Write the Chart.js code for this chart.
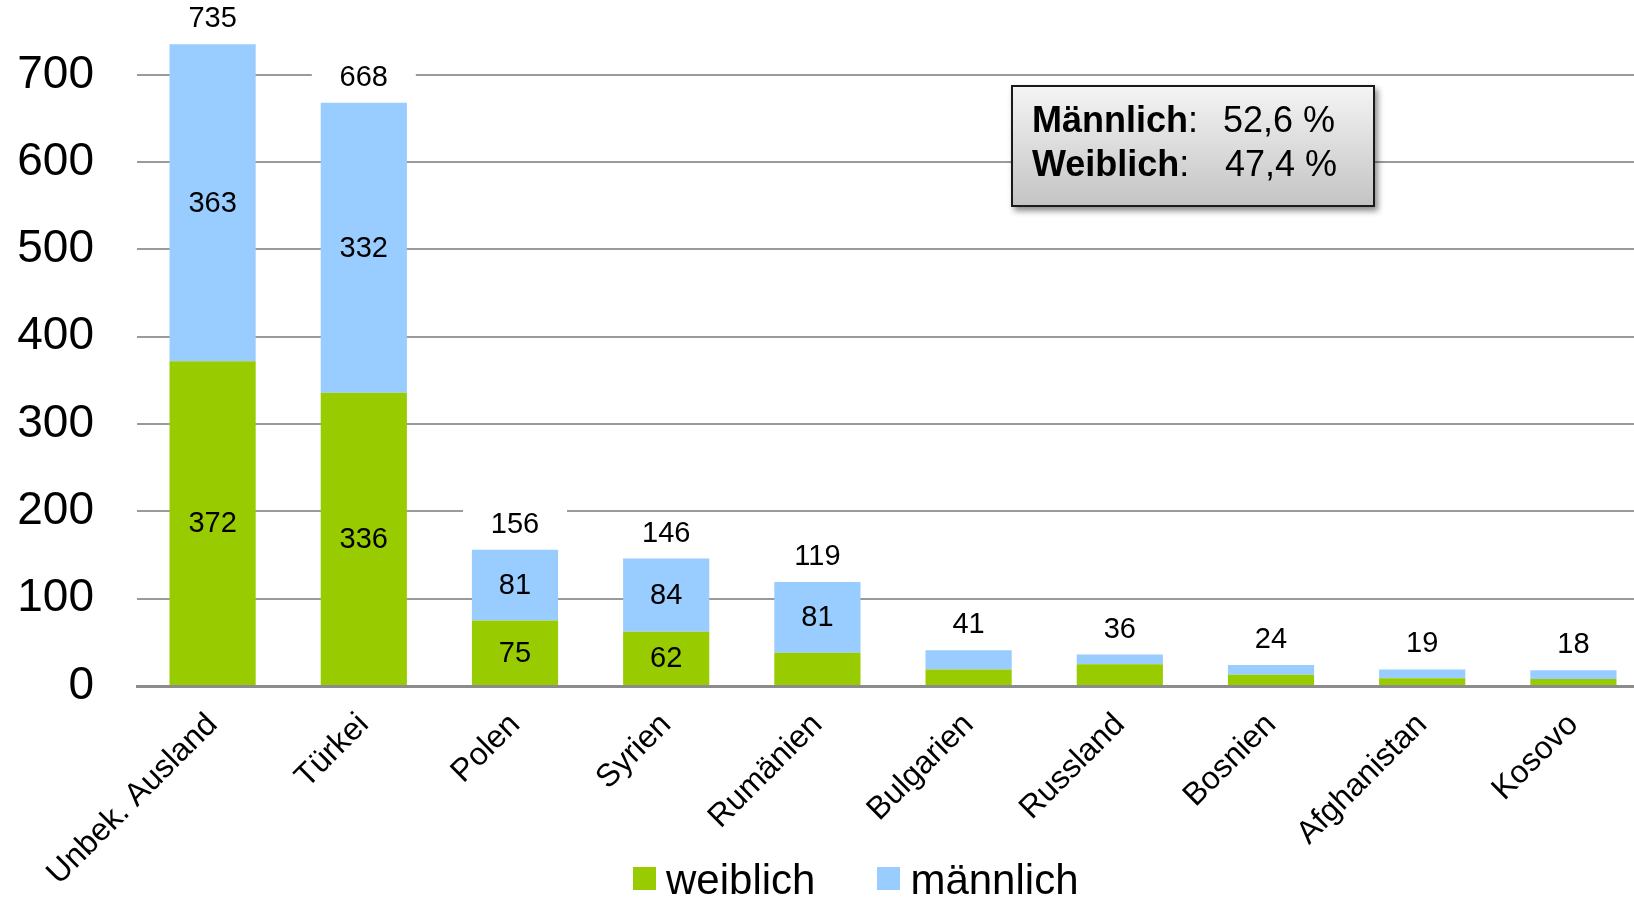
<!DOCTYPE html>
<html>
<head>
<meta charset="utf-8">
<script src="https://cdn.jsdelivr.net/npm/chart.js@4.4.0/dist/chart.umd.min.js"></script>
<style>
html, body { margin: 0; padding: 0; background: #fff; overflow: hidden; width: 1634px; height: 898px; }
#wrap { position: relative; width: 1634px; height: 898px; overflow: hidden; font-family: 'Liberation Sans', Arial, sans-serif; color: #000; }
#grafico { position: absolute; left: 0; top: 0; }
.infoBox { position: absolute; left: 1011px; top: 85px; width: 364px; height: 122px; box-sizing: border-box;
  border: 2px solid #1a1a1a; background: linear-gradient(to bottom, #f4f4f4, #c4c4c4);
  box-shadow: 3px 4px 6px rgba(0, 0, 0, 0.45); }
.infoBox span { position: absolute; font-size: 36px; line-height: 44px; white-space: nowrap; }
.infoBox b { font-weight: bold; }
#leyenda { position: absolute; left: 633px; top: 859px; display: flex; align-items: flex-start; }
.item { display: flex; align-items: flex-start; margin-right: 62px; }
.cuadro { width: 23px; height: 23px; margin-top: 8px; margin-right: 10px; }
.texto { font-size: 42px; line-height: 42px; white-space: nowrap; }
</style>
</head>
<body>
<div id="wrap">
    <canvas id="grafico" width="1649" height="898"></canvas>
    <div class="infoBox">
        <span style="left:19px; top:11px;"><b>Männlich</b>:</span>
        <span style="left:210px; top:11px;">52,6 %</span>
        <span style="left:19px; top:55px;"><b>Weiblich</b>:</span>
        <span style="left:212px; top:55px;">47,4 %</span>
    </div>
    <div id="leyenda"></div>
</div>
<script>
var paises = ['Unbek. Ausland', 'Türkei', 'Polen', 'Syrien', 'Rumänien', 'Bulgarien', 'Russland', 'Bosnien', 'Afghanistan', 'Kosovo'];
var weiblich = [372, 336, 75, 62, 38, 19, 25, 13, 9, 8];
var maennlich = [363, 332, 81, 84, 81, 22, 11, 11, 10, 10];
var gesamt = [735, 668, 156, 146, 119, 41, 36, 24, 19, 18];
var ejeY = [0, 100, 200, 300, 400, 500, 600, 700];

var fuente = "'Liberation Sans', Arial, sans-serif";

// etiquetas de valores dentro de las barras y totales arriba
var etiquetasPlugin = {
    id: 'etiquetas',
    afterDatasetsDraw: function (chart) {
        var ctx = chart.ctx;
        ctx.save();
        ctx.font = '29px ' + fuente;
        ctx.textAlign = 'center';
        ctx.textBaseline = 'middle';
        ctx.fillStyle = '#000';
        chart.data.datasets.forEach(function (ds, i) {
            var meta = chart.getDatasetMeta(i);
            meta.data.forEach(function (bar, j) {
                if (ds.data[j] >= 50) {
                    ctx.fillText(ds.data[j], bar.x, (bar.y + bar.base) / 2 + 1);
                }
            });
        });
        var metaArriba = chart.getDatasetMeta(1);
        metaArriba.data.forEach(function (bar, j) {
            var y = bar.y - 26;
            ctx.fillStyle = '#fff';
            ctx.fillRect(bar.x - 52, y - 17, 104, 32);
            ctx.fillStyle = '#000';
            ctx.fillText(gesamt[j], bar.x, y + 1);
        });
        ctx.restore();
    }
};

var ctx = document.getElementById('grafico');
var grafico = new Chart(ctx, {
    type: 'bar',
    data: {
        labels: paises,
        datasets: [{
            label: 'weiblich',
            data: weiblich,
            backgroundColor: '#99CC00',
            barPercentage: 0.57,
            categoryPercentage: 1.0
        }, {
            label: 'männlich',
            data: maennlich,
            backgroundColor: '#99CCFF',
            barPercentage: 0.57,
            categoryPercentage: 1.0
        }]
    },
    options: {
        responsive: false,
        animation: false,
        layout: { padding: { top: 5, left: 0, right: 0, bottom: 0 } },
        plugins: {
            legend: { display: false },
            tooltip: { enabled: false }
        },
        scales: {
            x: {
                stacked: true,
                grid: { display: false, drawTicks: false },
                border: { display: true, color: '#8c8c8c', width: 3 },
                ticks: {
                    color: '#000',
                    font: { family: fuente, size: 32 },
                    maxRotation: 45,
                    minRotation: 45,
                    autoSkip: false,
                    padding: 20
                },
                afterFit: function (axis) {
                    axis.height = 212;
                    axis.paddingLeft = 0;
                    axis.paddingRight = 0;
                }
            },
            y: {
                stacked: true,
                min: 0,
                max: 780,
                ticks: {
                    stepSize: 100,
                    padding: 43,
                    color: '#000',
                    font: { family: fuente, size: 46 }
                },
                afterBuildTicks: function (axis) {
                    axis.ticks = ejeY.map(function (v) { return { value: v }; });
                },
                grid: { color: '#9a9a9a', lineWidth: 2, drawTicks: false },
                border: { display: false },
                afterFit: function (axis) {
                    axis.width = 137;
                    axis.paddingTop = 0;
                    axis.paddingBottom = 0;
                }
            }
        }
    },
    plugins: [etiquetasPlugin]
});

// leyenda abajo
var leyenda = document.getElementById('leyenda');
grafico.data.datasets.forEach(function (ds) {
    var item = document.createElement('div');
    item.className = 'item';
    var cuadro = document.createElement('div');
    cuadro.className = 'cuadro';
    cuadro.style.background = ds.backgroundColor;
    var texto = document.createElement('div');
    texto.className = 'texto';
    texto.textContent = ds.label;
    item.appendChild(cuadro);
    item.appendChild(texto);
    leyenda.appendChild(item);
});
</script>
</body>
</html>
